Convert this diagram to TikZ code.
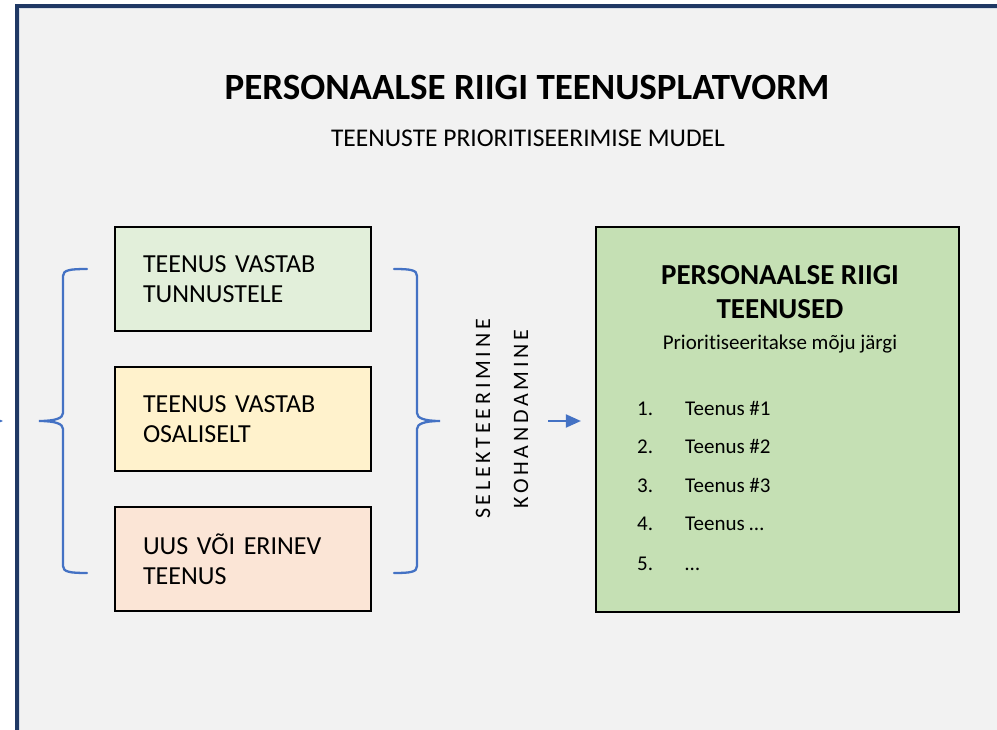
\documentclass[tikz,border=0pt]{standalone}
\usepackage{fontspec}
\setmainfont{Carlito}[Ligatures={NoCommon}]
\newfontfamily\spacedfont{Carlito}[LetterSpace=17,Ligatures={NoCommon}]
\usetikzlibrary{arrows.meta}
\definecolor{navy}{HTML}{1F3864}
\definecolor{paper}{HTML}{F2F2F2}
\definecolor{innerline}{HTML}{D6DCE5}
\definecolor{bluebrace}{HTML}{4472C4}
\definecolor{greenA}{HTML}{E2EFDA}
\definecolor{yellowA}{HTML}{FFF2CC}
\definecolor{peachA}{HTML}{FBE5D6}
\definecolor{greenB}{HTML}{C5E0B4}
\begin{document}
\begin{tikzpicture}[x=1pt,y=-1pt,
  catbox/.style={draw=black,line width=2.2pt,minimum width=256pt,minimum height=104pt,
     text width=200pt,align=left,inner sep=0pt,font=\fontsize{26}{30}\selectfont},
  bracestyle/.style={draw=bluebrace,line width=2.3pt,line cap=round},
  bluearrow/.style={draw=bluebrace,line width=2pt,-{Triangle[length=15pt,width=13pt]}},
  listnum/.style={anchor=base west,inner sep=0pt,font=\fontsize{21}{25}\selectfont},
  vtext/.style={rotate=90,inner sep=0pt,font=\spacedfont\fontsize{22}{26}\selectfont}]
\useasboundingbox (0,0) rectangle (997,730);
\clip (0,0) rectangle (997,730);
\fill[white] (0,0) rectangle (997,730);
% frame
\draw[draw=navy,line width=4.5pt,fill=paper] (17.2,6.2) rectangle (1030,760);
\draw[draw=innerline,line width=1pt] (19.9,8.9) rectangle (1030,760);
% titles
\node[inner sep=0pt,font=\bfseries\fontsize{37}{44}\selectfont] (title) at (527,88) {PERSONAALSE RIIGI TEENUSPLATVORM};
\node[inner sep=0pt,font=\fontsize{25.5}{30}\selectfont] (subtitle) at (528,138) {TEENUSTE PRIORITISEERIMISE MUDEL};
% category boxes
\node[catbox,fill=greenA] (b1) at (243,279) {TEENUS VASTAB\\TUNNUSTELE};
\node[catbox,fill=yellowA] (b2) at (243,419) {TEENUS VASTAB\\OSALISELT};
\node[catbox,fill=peachA] (b3) at (243,559) {UUS VÕI ERINEV\\TEENUS};
% braces
\draw[bracestyle] (87,269) .. controls (70,269) and (63,270) .. (63,276) -- (63,413)
   .. controls (63,418) and (56,421) .. (39,421)
   .. controls (56,421) and (63,424) .. (63,429) -- (63,566)
   .. controls (63,572) and (70,573) .. (87,573);
\draw[bracestyle] (394,269) .. controls (411,269) and (417,270) .. (417,276) -- (417,413)
   .. controls (417,418) and (424,421) .. (440,421)
   .. controls (424,421) and (417,424) .. (417,429) -- (417,566)
   .. controls (417,572) and (411,573) .. (394,573);
% vertical texts
\node[vtext] (sel) at (483,419) {SELEKTEERIMINE};
\node[vtext] (koh) at (521,419) {KOHANDAMINE};
% big box
\node[draw=black,line width=2.2pt,fill=greenB,minimum width=363pt,minimum height=385pt,inner sep=0pt] (big) at (777.5,419.5) {};
\node[inner sep=0pt,align=center,font=\bfseries\fontsize{29}{34}\selectfont] (bigtitle) at (780,292) {PERSONAALSE RIIGI\\TEENUSED};
\node[inner sep=0pt,font=\fontsize{21}{25}\selectfont] (bigsub) at (780,344) {Prioritiseeritakse mõju järgi};
\node[listnum] (n1) at (637,415.5) {1.};
\node[listnum] (t1) at (685,415.5) {Teenus \#1};
\node[listnum] (n2) at (637,453.5) {2.};
\node[listnum] (t2) at (685,453.5) {Teenus \#2};
\node[listnum] (n3) at (637,492.5) {3.};
\node[listnum] (t3) at (685,492.5) {Teenus \#3};
\node[listnum] (n4) at (637,530.5) {4.};
\node[listnum] (t4) at (685,530.5) {Teenus …};
\node[listnum] (n5) at (637,570) {5.};
\node[listnum] (t5) at (685,570) {…};
% arrows
\coordinate (arrS) at (548,421);
\draw[bluearrow,shorten >=14pt] (arrS) -- (arrS -| big.west);
\coordinate (leftS) at (-40,421);
\coordinate (leftE) at (3,421);
\draw[bluearrow] (leftS) -- (leftE);
\end{tikzpicture}
\end{document}
